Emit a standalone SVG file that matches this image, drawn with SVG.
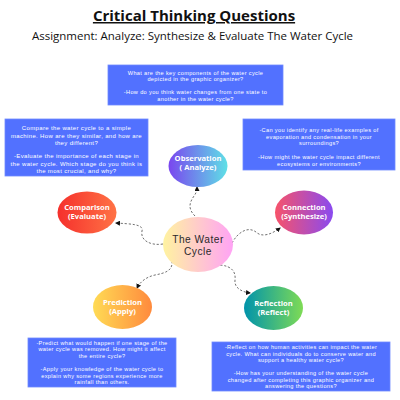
<svg xmlns="http://www.w3.org/2000/svg" width="400" height="400" viewBox="0 0 400 400">
<style>
.box{fill:#5271ff;stroke:#6f8aff;stroke-width:0.8}
.bt{font-family:"Liberation Sans",Arial,sans-serif;font-size:5.6px;letter-spacing:0.35px;fill:#ffffff;text-anchor:middle}
.nl{font-family:"Open Sans","Liberation Sans",sans-serif;font-size:7.6px;font-weight:bold;fill:#ffffff;text-anchor:middle}
.wc{font-family:"Liberation Sans",Arial,sans-serif;font-size:10.2px;letter-spacing:0.5px;fill:#2a2a2a;text-anchor:middle}
.con{fill:none;stroke:#707070;stroke-width:1;stroke-dasharray:2.2 1.8}
</style>
<defs>
<marker id="ah" viewBox="0 0 10 10" refX="8" refY="5" markerWidth="5" markerHeight="5" orient="auto-start-reverse" markerUnits="userSpaceOnUse"><path d="M0,0 L10,5 L0,10 z" fill="#111"/></marker>
<linearGradient id="gObs" x1="0" y1="0" x2="1" y2="0"><stop offset="0" stop-color="#7a46ef"/><stop offset="1" stop-color="#5ee0e6"/></linearGradient>
<linearGradient id="gCmp" x1="0" y1="0" x2="1" y2="0"><stop offset="0" stop-color="#f5302c"/><stop offset="1" stop-color="#ff7245"/></linearGradient>
<linearGradient id="gCon" x1="0" y1="0" x2="1" y2="0"><stop offset="0" stop-color="#f7536a"/><stop offset="1" stop-color="#8a4af0"/></linearGradient>
<linearGradient id="gWC" x1="0" y1="0" x2="1" y2="0"><stop offset="0" stop-color="#fff3a0"/><stop offset="1" stop-color="#ffa3f5"/></linearGradient>
<linearGradient id="gPre" x1="0" y1="0" x2="1" y2="0"><stop offset="0" stop-color="#ffdb55"/><stop offset="1" stop-color="#ff8a3d"/></linearGradient>
<linearGradient id="gRef" x1="0" y1="0" x2="1" y2="0"><stop offset="0" stop-color="#0093ab"/><stop offset="1" stop-color="#7edb55"/></linearGradient>
</defs>
<rect width="400" height="400" fill="#ffffff"/>

<g id="title">
<text x="194" y="21" font-family="Open Sans,Liberation Sans,sans-serif" font-size="15" font-weight="bold" fill="#111" text-anchor="middle" text-decoration="underline">Critical Thinking Questions</text>
<text x="32" y="40" font-family="Open Sans,Liberation Sans,sans-serif" font-size="10.8" fill="#111" textLength="321" lengthAdjust="spacingAndGlyphs">Assignment: Analyze: Synthesize &amp; Evaluate The Water Cycle</text>
</g>

<g id="box-top">
<rect class="box" x="108" y="65" width="175" height="40"/>
<text class="bt" x="195.5" y="74.5">What are the key components of the water cycle</text>
<text class="bt" x="195.5" y="81">depicted in the graphic organizer?</text>
<text class="bt" x="195.5" y="94">-How do you think water changes from one state to</text>
<text class="bt" x="195.5" y="100.5">another in the water cycle?</text>
</g>

<g id="box-left">
<rect class="box" x="5" y="119" width="143" height="57"/>
<text class="bt" x="76.5" y="130" style="font-size:6px">Compare the water cycle to a simple</text>
<text class="bt" x="76.5" y="137.5" style="font-size:6px">machine. How are they similar, and how are</text>
<text class="bt" x="76.5" y="145" style="font-size:6px">they different?</text>
<text class="bt" x="76.5" y="158" style="font-size:6px">-Evaluate the importance of each stage in</text>
<text class="bt" x="76.5" y="165.5" style="font-size:6px">the water cycle. Which stage do you think is</text>
<text class="bt" x="76.5" y="173" style="font-size:6px">the most crucial, and why?</text>
</g>

<g id="box-right">
<rect class="box" x="243" y="119" width="152" height="51"/>
<text class="bt" x="319" y="132">-Can you identify any real-life examples of</text>
<text class="bt" x="319" y="138.5">evaporation and condensation in your</text>
<text class="bt" x="319" y="145">surroundings?</text>
<text class="bt" x="319" y="159">-How might the water cycle impact different</text>
<text class="bt" x="319" y="165.5">ecosystems or environments?</text>
</g>

<g id="box-bottom-left">
<rect class="box" x="28" y="338" width="148" height="49"/>
<text class="bt" x="102" y="344.5">-Predict what would happen if one stage of the</text>
<text class="bt" x="102" y="351">water cycle was removed. How might it affect</text>
<text class="bt" x="102" y="357.5">the entire cycle?</text>
<text class="bt" x="102" y="371">-Apply your knowledge of the water cycle to</text>
<text class="bt" x="102" y="377.5">explain why some regions experience more</text>
<text class="bt" x="102" y="384">rainfall than others.</text>
</g>

<g id="box-bottom-right">
<rect class="box" x="212" y="342" width="178" height="49"/>
<text class="bt" x="301" y="349">-Reflect on how human activities can impact the water</text>
<text class="bt" x="301" y="355.5">cycle. What can individuals do to conserve water and</text>
<text class="bt" x="301" y="362">support a healthy water cycle?</text>
<text class="bt" x="301" y="375">-How has your understanding of the water cycle</text>
<text class="bt" x="301" y="381.5">changed after completing this graphic organizer and</text>
<text class="bt" x="301" y="388">answering the questions?</text>
</g>

<g id="connectors">
<path class="con" marker-end="url(#ah)" d="M195,216 C187,208 190,202 194,196 C197,192 197,189 197,187"/>
<path class="con" marker-end="url(#ah)" d="M163,244 C150,246 140,240 142,231 C144,224 130,224 116,223"/>
<path class="con" marker-end="url(#ah)" d="M172,261 C173,271 165,273 155,275 C146,277 140,282 137,288"/>
<path class="con" marker-end="url(#ah)" d="M232,243 C238,232 248,226 256,232 C262,238 272,234 280,228"/>
<path class="con" marker-end="url(#ah)" d="M220,265 C232,266 236,272 235,280 C234,288 242,292 250,293"/>
</g>

<g id="node-observation">
<ellipse cx="198" cy="166" rx="29.5" ry="21" fill="url(#gObs)"/>
<text class="nl" x="198" y="161">Observation</text>
<text class="nl" x="198" y="170">( Analyze)</text>
</g>
<g id="node-comparison">
<ellipse cx="87" cy="212.5" rx="29.5" ry="21" fill="url(#gCmp)"/>
<text class="nl" x="87" y="210">Comparison</text>
<text class="nl" x="87" y="219">(Evaluate)</text>
</g>
<g id="node-connection">
<ellipse cx="304" cy="212.5" rx="29" ry="22" fill="url(#gCon)"/>
<text class="nl" x="304" y="210">Connection</text>
<text class="nl" x="304" y="219">(Synthesize)</text>
</g>
<g id="node-water-cycle">
<ellipse cx="198" cy="244.5" rx="35" ry="27.5" fill="url(#gWC)"/>
<text class="wc" x="198" y="242.5">The Water</text>
<text class="wc" x="198" y="254.5">Cycle</text>
</g>
<g id="node-prediction">
<ellipse cx="122.5" cy="307" rx="29.5" ry="22" fill="url(#gPre)"/>
<text class="nl" x="122.5" y="305">Prediction</text>
<text class="nl" x="122.5" y="314">(Apply)</text>
</g>
<g id="node-reflection">
<ellipse cx="273.5" cy="308" rx="29.5" ry="22" fill="url(#gRef)"/>
<text class="nl" x="273.5" y="305.5">Reflection</text>
<text class="nl" x="273.5" y="314.5">(Reflect)</text>
</g>
</svg>
